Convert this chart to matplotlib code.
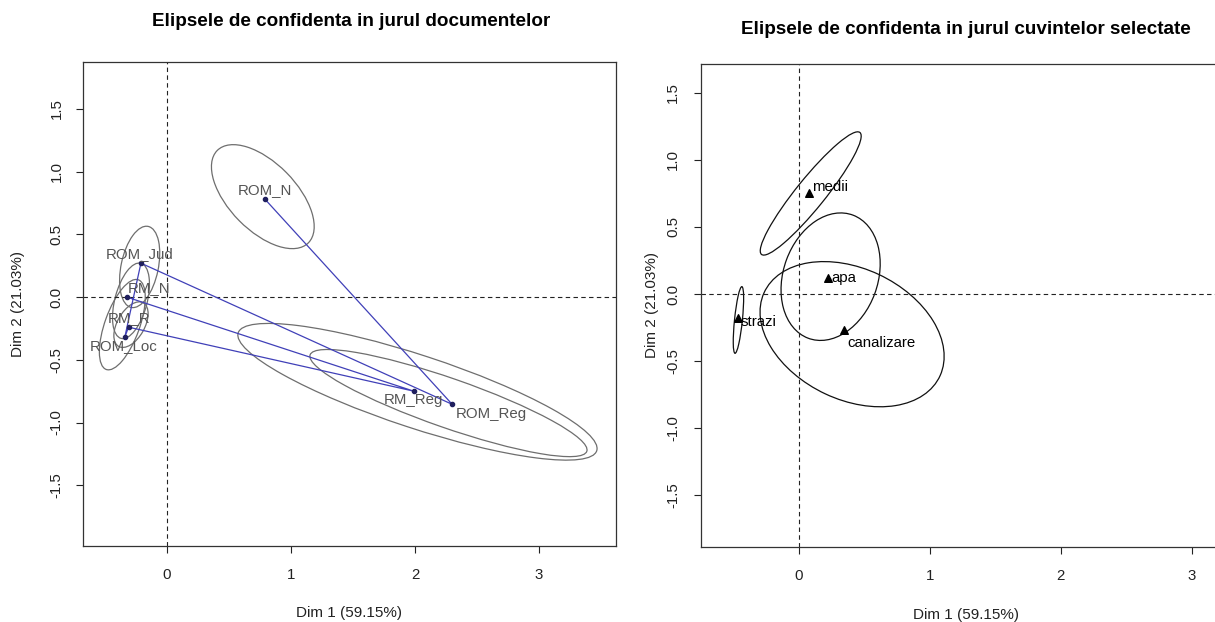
import numpy as np
import matplotlib.pyplot as plt
from matplotlib.patches import Ellipse

plt.rcParams['font.family'] = ['Liberation Sans', 'DejaVu Sans']

# --- documente (panoul stang) ---
doc_names = ["ROM_N", "ROM_Jud", "RM_N", "RM_R", "ROM_Loc", "RM_Reg", "ROM_Reg"]
doc_x = [0.79, -0.21, -0.325, -0.31, -0.34, 1.99, 2.30]
doc_y = [0.78, 0.27, 0.0, -0.24, -0.32, -0.75, -0.855]
# elipse: centru, latime, inaltime, unghi
doc_ell_x = [0.773, -0.22, -0.29, -0.29, -0.36, 2.02, 2.27]
doc_ell_y = [0.80, 0.24, -0.03, -0.22, -0.22, -0.755, -0.845]
doc_ell_w = [1.04, 0.66, 0.62, 0.40, 0.76, 3.04, 2.36]
doc_ell_h = [0.54, 0.30, 0.26, 0.22, 0.28, 0.58, 0.394]
doc_ell_a = [-45, 78, 75, 60, 70, -18.0, -19.0]
# traseul albastru
doc_path = ["ROM_N", "ROM_Reg", "ROM_Jud", "ROM_Loc", "RM_R", "RM_Reg", "RM_N"]

# --- cuvinte (panoul drept) ---
word_names = ["medii", "apa", "strazi", "canalizare"]
word_x = [0.076, 0.224, -0.463, 0.344]
word_y = [0.75, 0.122, -0.18, -0.27]
word_ell_x = [0.09, 0.242, -0.462, 0.406]
word_ell_y = [0.75, 0.129, -0.194, -0.30]
word_ell_w = [1.18, 0.98, 0.50, 1.48]
word_ell_h = [0.22, 0.72, 0.06, 0.98]
word_ell_a = [50.4, 69.3, 84, -24.6]

y_ticks = [-1.5, -1.0, -0.5, 0.0, 0.5, 1.0, 1.5]
x_ticks = [0, 1, 2, 3]

# pozitii etichete (pixeli)
doc_lab_off = {"ROM_N": (0, 9), "ROM_Jud": (-1, 9), "RM_N": (22, 9), "RM_R": (1, 9),
               "ROM_Loc": (-1, -9), "RM_Reg": (0, -9), "ROM_Reg": (39, -10)}
word_lab_off = {"medii": (3, 6), "apa": (3, 0), "strazi": (2, -4), "canalizare": (3, -13)}

W, H = 1215, 622
fig = plt.figure(figsize=(W / 100, H / 100), dpi=100)


def px_axes(l, r, t, b):
    return fig.add_axes([l / W, (H - b) / H, (r - l) / W, (b - t) / H])


def style(ax, ylab_x, ypad):
    ax.set_xticks(x_ticks)
    ax.set_yticks(y_ticks)
    ax.set_yticklabels([f"{v:.1f}" for v in y_ticks], rotation=90, va="center")
    ax.tick_params(direction="out", length=5, width=0.8, colors="#222222", labelsize=10.8)
    ax.tick_params(axis="x", pad=11)
    ax.tick_params(axis="y", pad=ypad)
    for s in ax.spines.values():
        s.set_color("#333333")
        s.set_linewidth(0.9)
    ax.axhline(0, color="#222222", ls=(0, (4, 3)), lw=0.8)
    ax.axvline(0, color="#222222", ls=(0, (4, 3)), lw=0.8)
    ax.set_xlabel("Dim 1 (59.15%)", fontsize=11, color="#222222")
    ax.set_ylabel("Dim 2 (21.03%)", fontsize=11, color="#222222")
    ax.xaxis.label.set_va("center")
    ax.yaxis.label.set_va("center")
    ax.xaxis.set_label_coords(0.5, -0.138)
    ax.yaxis.set_label_coords(ylab_x, 0.5)


# ---------- panoul stang ----------
ax1 = px_axes(83, 616, 62, 546)
ax1.set_xlim(-0.677, 3.621)
ax1.set_ylim(-1.984, 1.873)
style(ax1, -0.122, 9)

for i in range(len(doc_names)):
    ax1.add_patch(Ellipse((doc_ell_x[i], doc_ell_y[i]), doc_ell_w[i], doc_ell_h[i],
                          angle=doc_ell_a[i], fill=False, ec="#6e6e6e", lw=0.9))

idx = [doc_names.index(n) for n in doc_path]
ax1.plot([doc_x[i] for i in idx], [doc_y[i] for i in idx], color="#4040b8", lw=0.9)
ax1.scatter(doc_x, doc_y, s=9, color="#1f1f5e", zorder=3)
for n, x, y in zip(doc_names, doc_x, doc_y):
    ax1.annotate(n, (x, y), xytext=doc_lab_off[n], textcoords="offset pixels",
                 ha="center", va="center", fontsize=10.8, color="#555555")

fig.text(351 / W, 1 - 21 / H, "Elipsele de confidenta in jurul documentelor",
         ha="center", va="center", fontsize=13.6, fontweight="bold")

# ---------- panoul drept ----------
ax2 = px_axes(701, 1231, 64, 547)
ax2.set_xlim(-0.748, 3.30)
ax2.set_ylim(-1.888, 1.716)
style(ax2, -0.0925, 10)
ax2.xaxis.set_label_coords(0.5, -0.141)

for i in range(len(word_names)):
    ax2.add_patch(Ellipse((word_ell_x[i], word_ell_y[i]), word_ell_w[i], word_ell_h[i],
                          angle=word_ell_a[i], fill=False, ec="#111111", lw=0.9))

ax2.scatter(word_x, word_y, marker="^", s=30, color="black", zorder=3)
for n, x, y in zip(word_names, word_x, word_y):
    ax2.annotate(n, (x, y), xytext=word_lab_off[n], textcoords="offset pixels",
                 ha="left", va="center", fontsize=10.8, color="black")

fig.text(966 / W, 1 - 29 / H, "Elipsele de confidenta in jurul cuvintelor selectate",
         ha="center", va="center", fontsize=13.6, fontweight="bold")

fig.savefig("out.png", dpi=100)
